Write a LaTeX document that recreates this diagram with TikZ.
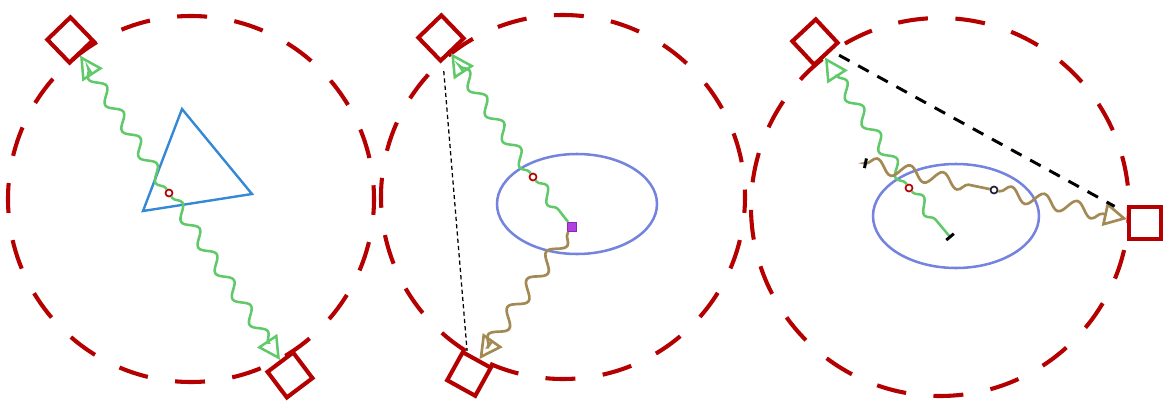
\documentclass[tikz,border=0pt]{standalone}
\usetikzlibrary{arrows.meta,decorations.pathmorphing}
\definecolor{ringred}{RGB}{180,0,0}
\definecolor{wavegreen}{RGB}{96,202,106}
\definecolor{wavebrown}{RGB}{163,138,84}
\definecolor{triblue}{RGB}{52,136,214}
\definecolor{ellblue}{RGB}{116,132,222}
\definecolor{hitpurple}{RGB}{176,64,226}
\definecolor{hitpurpleD}{RGB}{140,40,170}
\definecolor{vtxdark}{RGB}{30,30,60}
\tikzset{
  ring/.style={draw=ringred,line width=2.9pt,dash pattern=on 21.3pt off 19.6pt,dash phase=10pt},
  det/.style={draw=ringred,line width=2.9pt,rectangle,minimum size=22.8pt,inner sep=0pt},
  vtx/.style={draw=ringred,fill=white,circle,line width=1.2pt,minimum size=5pt,inner sep=0pt},
  vtxd/.style={vtx,draw=vtxdark},
  hit/.style={draw=hitpurpleD,fill=hitpurple,rectangle,line width=0.7pt,minimum size=6.5pt,inner sep=0pt},
  tri/.style={draw=triblue,line width=1.7pt,line join=miter},
  ell/.style={draw=ellblue,line width=1.8pt},
  gwave/.style={draw=wavegreen,line width=1.8pt,decorate,
                decoration={snake,amplitude=4.2pt,segment length=22pt,pre length=1pt,post length=8pt}},
  bwave/.style={draw=wavebrown,line width=1.9pt,decorate,
                decoration={snake,amplitude=5pt,segment length=24pt,pre length=1pt,post length=8pt}},
  warr/.style={-{Triangle[open,length=16.5pt,width=17pt]}},
  barend/.style={-{Bar[black,width=7pt,line width=2.1pt]}},
  barstart/.style={{Bar[black,width=7pt,line width=2.1pt]}-},
  sdash/.style={draw=black,line width=0.9pt,dash pattern=on 3pt off 2.2pt,shorten <=7pt,shorten >=1pt},
  ldash/.style={draw=black,line width=2.1pt,dash pattern=on 8.5pt off 7pt,shorten <=6pt,shorten >=10pt},
}

\begin{document}
\begin{tikzpicture}[x=0.025cm,y=-0.025cm]
\useasboundingbox (0,0) rectangle (1166,401);
\draw[ring] (191,199) circle (183);
\draw[ring] (563,197) circle (182);
\draw[ring] (940,207) circle (189);
\draw[tri] (182,109) -- (252,194) -- (143,211) -- cycle;
\node[det,rotate=44] (detA1) at (70,40) {};
\node[det,rotate=37] (detA2) at (290,375) {};
\node[vtx] (vtxA) at (169,193) {};
\draw[gwave,warr] (vtxA) -- (detA1);
\draw[gwave,warr] (vtxA) -- (detA2);
\draw[ell] (577,204) ellipse (80 and 50);
\node[det,rotate=44] (detB1) at (441,38) {};
\node[det,rotate=61] (detB2) at (469,374) {};
\node[vtx] (vtxB) at (533,177) {};
\node[hit] (hitB) at (572,227) {};
\draw[gwave,warr] (vtxB) -- (detB1);
\draw[gwave] (vtxB) -- (hitB);
\draw[bwave,warr] (hitB) -- (detB2);
\draw[sdash] (detB1) -- (detB2);
\draw[ell] (956,216) ellipse (83 and 52);
\node[det,rotate=43] (detC1) at (815,42) {};
\node[det] (detC2) at (1145,223) {};
\node[vtx] (vtxC) at (909,188) {};
\node[vtxd] (vtxD) at (994,190) {};
\coordinate (stopG) at (951,238);
\coordinate (startB) at (864,163);
\draw[gwave,warr] (vtxC) -- (detC1);
\draw[gwave,barend] (vtxC) -- (stopG);
\draw[bwave,barstart] (startB) -- (vtxD);
\draw[bwave,warr] (vtxD) -- (detC2);
\draw[ldash] (detC1) -- (detC2);
\end{tikzpicture}
\end{document}
